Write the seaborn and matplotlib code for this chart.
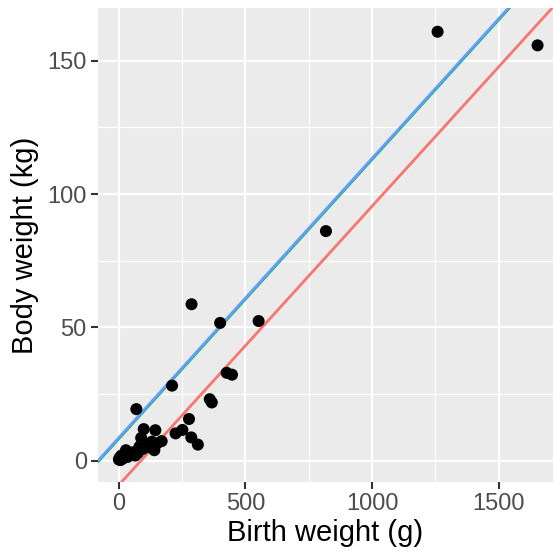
import numpy as np
import pandas as pd
import seaborn as sns
import matplotlib.pyplot as plt
from matplotlib.ticker import MultipleLocator

# birth weight (g) vs body weight (kg)
birth_g = [1259, 1654, 818, 287, 400, 552, 426, 447, 210, 359, 367, 69,
           277, 98, 144, 251, 224, 286, 312, 169, 88, 137,
           0, 3, 6, 10, 15, 22, 28, 35, 45, 55, 64, 75, 81, 95, 102,
           115, 125, 130, 140, 150]
body_kg = [160.8, 155.7, 86.1, 58.7, 51.7, 52.4, 33.0, 32.3, 28.2, 23.1, 21.9, 19.4,
           15.7, 11.9, 11.5, 11.6, 10.3, 8.8, 6.1, 7.4, 8.6, 4.6,
           0.5, 1.2, 0.3, 2.0, 0.8, 2.8, 4.0, 1.5, 2.5, 3.2, 2.0, 3.0, 5.3, 4.5, 6.6,
           5.2, 6.0, 7.2, 4.0, 6.5]

# fitted lines: intercept, slope
fit_names = ['red', 'green', 'blue']
fit_colors = ['#F8766D', '#00BA38', '#619CFF']
fit_intercepts = [-9.0, 8.05, 8.7]
fit_slopes = [0.1044, 0.1046, 0.1046]

df = pd.DataFrame({'birth': birth_g, 'body': body_kg})

sns.set_theme(style='darkgrid', rc={
    'axes.facecolor': '#EBEBEB',
    'grid.color': 'white',
    'axes.edgecolor': 'none',
})
plt.rcParams['font.family'] = ['Liberation Sans', 'DejaVu Sans']

fig = plt.figure(figsize=(5.53, 5.54), dpi=100)
ax = fig.add_axes([0.177, 0.13, 0.823, 0.8556])

sns.scatterplot(data=df, x='birth', y='body', color='black', s=75,
                edgecolor='none', ax=ax, zorder=5)

for name, col, b, m in zip(fit_names, fit_colors, fit_intercepts, fit_slopes):
    lw = 1.2 if name == 'green' else 2.0
    ax.axline((0, b), slope=m, color=col, lw=lw, zorder=3)

ax.set_xlim(-83, 1715)
ax.set_ylim(-7.9, 169.7)
ax.xaxis.set_major_locator(MultipleLocator(500))
ax.yaxis.set_major_locator(MultipleLocator(50))
ax.xaxis.set_minor_locator(MultipleLocator(250))
ax.yaxis.set_minor_locator(MultipleLocator(25))
ax.grid(which='major', color='white', lw=1.6)
ax.grid(which='minor', color='white', lw=0.8)

ax.tick_params(axis='both', which='major', length=5, width=1.5, color='#333333',
               labelsize=17, labelcolor='#4D4D4D', pad=3, bottom=True, left=True)
ax.tick_params(axis='both', which='minor', length=0)

ax.set_xlabel('Birth weight (g)', fontsize=21, color='black', labelpad=3)
ax.set_ylabel('Body weight (kg)', fontsize=21, color='black', labelpad=6)

fig.savefig('out.png', dpi=100)
